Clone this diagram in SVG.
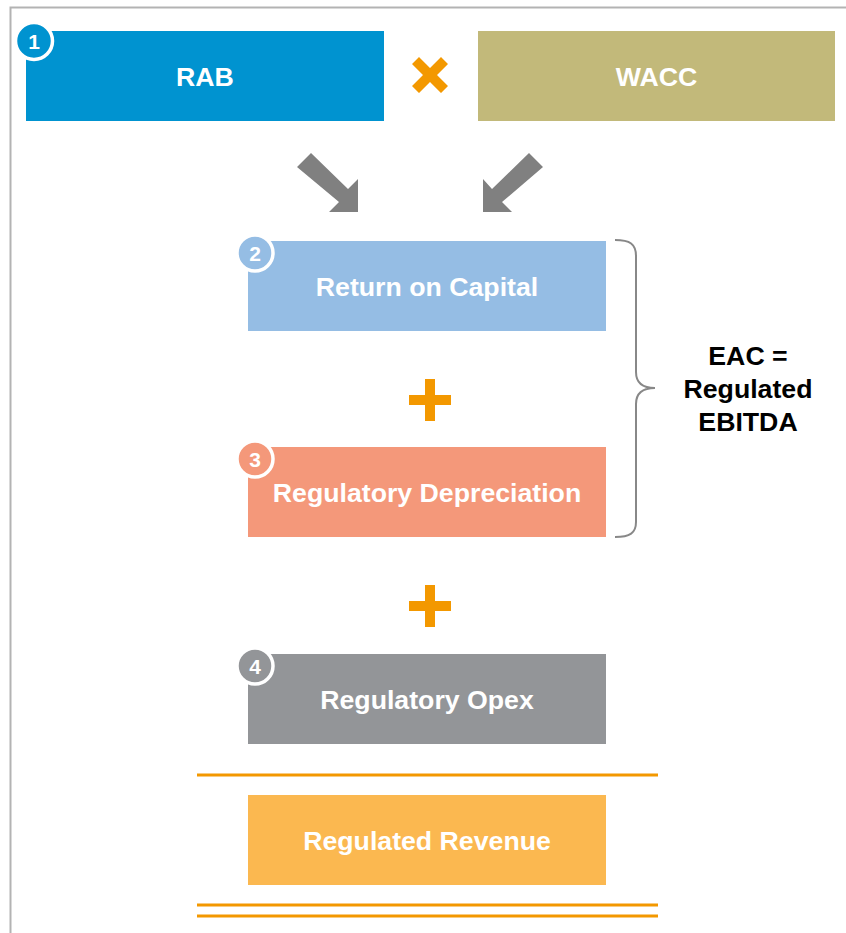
<svg xmlns="http://www.w3.org/2000/svg" width="846" height="933" viewBox="0 0 846 933">
<style>
.lbl{font-family:"Liberation Sans",Arial,sans-serif;font-weight:bold;font-size:26.7px;fill:#fff;text-anchor:middle}
.num{font-family:"Liberation Sans",Arial,sans-serif;font-weight:bold;font-size:21px;fill:#fff;text-anchor:middle}
.side{font-family:"Liberation Sans",Arial,sans-serif;font-weight:bold;font-size:26.7px;fill:#000;text-anchor:middle}
.badge{stroke:#fff;stroke-width:3.5}
.orange{fill:#F39800}
.rule{stroke:#F39800;stroke-width:3}
.arrow{fill:#808080}
</style>
<rect width="846" height="933" fill="#fff"/>
<path d="M10.5,933 V7.5 H846" fill="none" stroke="#b3b3b3" stroke-width="2"/>

<g id="rab">
<rect x="26" y="31" width="358" height="90" fill="#0093D0"/>
<text class="lbl" x="205" y="86">RAB</text>
<circle class="badge" cx="34" cy="41" r="18.5" fill="#0093D0"/>
<text class="num" x="34" y="48.5">1</text>
</g>
<g id="times">
<path class="orange" d="M412,64 L419,57 L430,68 L441,57 L448,64 L437,75 L448,86 L441,93 L430,82 L419,93 L412,86 L423,75 Z"/>
</g>
<g id="wacc">
<rect x="478" y="31" width="357" height="90" fill="#C2B97A"/>
<text class="lbl" x="656.5" y="86">WACC</text>
</g>

<g id="connectors">
<path class="arrow" d="M297,167 L311,153 L348,189 L358,179 L358,212 L329,212 L339,202 Z"/>
<path class="arrow" d="M543,167 L529,153 L492,189 L483,179 L483,212 L512,212 L502,202 Z"/>
</g>

<g id="return">
<rect x="248" y="241" width="358" height="90" fill="#95BDE4"/>
<text class="lbl" x="427" y="296">Return on Capital</text>
<circle class="badge" cx="255" cy="253" r="18" fill="#95BDE4"/>
<text class="num" x="255" y="260.5">2</text>
</g>
<g id="plus1">
<path class="orange" d="M425,379 H435 V395 H451 V405 H435 V421 H425 V405 H409 V395 H425 Z"/>
</g>
<g id="depreciation">
<rect x="248" y="447" width="358" height="90" fill="#F4987A"/>
<text class="lbl" x="427" y="502">Regulatory Depreciation</text>
<circle class="badge" cx="255" cy="459" r="18" fill="#F4987A"/>
<text class="num" x="255" y="466.5">3</text>
</g>
<g id="plus2">
<path class="orange" d="M425,585 H435 V601 H451 V611 H435 V627 H425 V611 H409 V601 H425 Z"/>
</g>
<g id="opex">
<rect x="248" y="654" width="358" height="90" fill="#939598"/>
<text class="lbl" x="427" y="709">Regulatory Opex</text>
<circle class="badge" cx="255" cy="666" r="18" fill="#939598"/>
<text class="num" x="255" y="673.5">4</text>
</g>

<g id="brace">
<path d="M615,240 C630,240 636,244 636,256 V372 C636,383 642,388 655,388 C642,388 636,393 636,404 V522 C636,533 630,537 615,537" fill="none" stroke="#888" stroke-width="2"/>
</g>
<g id="eac">
<text class="side" x="748" y="365">EAC =</text>
<text class="side" x="748" y="398">Regulated</text>
<text class="side" x="748" y="431">EBITDA</text>
</g>

<g id="rules">
<line class="rule" x1="197" y1="775" x2="658" y2="775"/>
<line class="rule" x1="197" y1="905" x2="658" y2="905"/>
<line class="rule" x1="197" y1="916" x2="658" y2="916"/>
</g>
<g id="revenue">
<rect x="248" y="795" width="358" height="90" fill="#FBB850"/>
<text class="lbl" x="427" y="850">Regulated Revenue</text>
</g>
</svg>
